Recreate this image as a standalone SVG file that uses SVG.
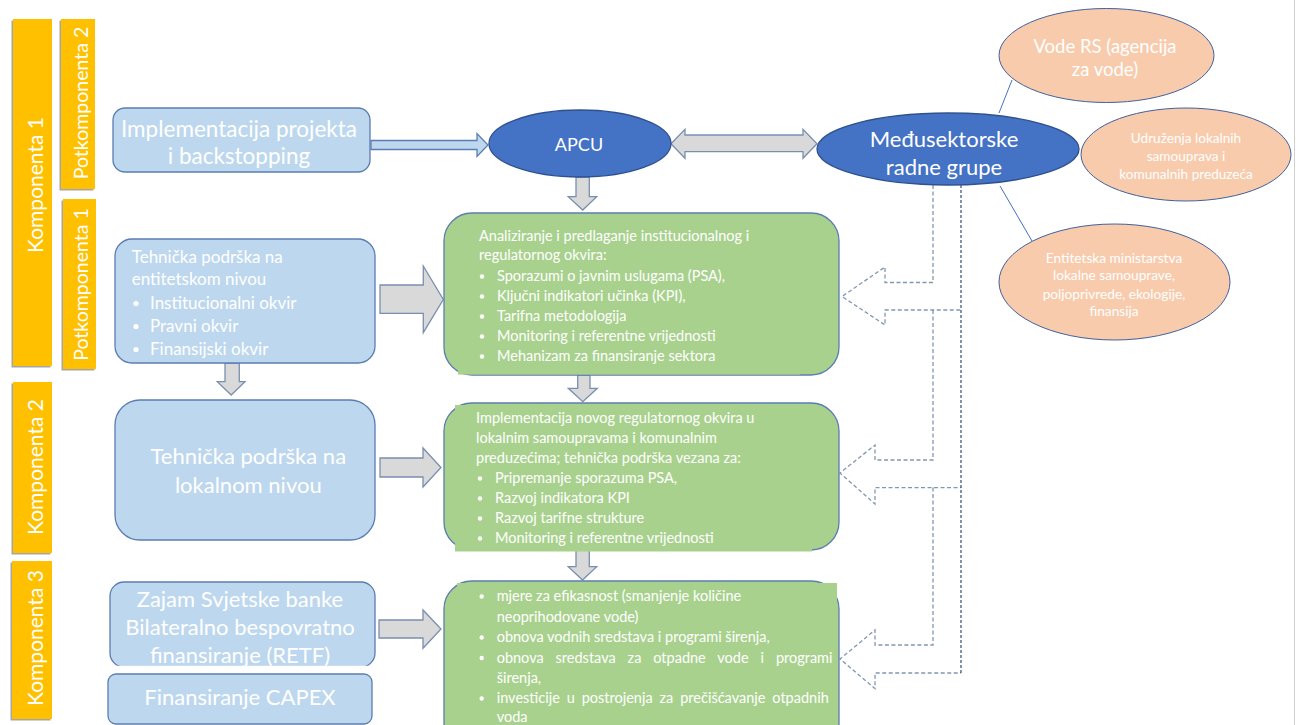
<svg xmlns="http://www.w3.org/2000/svg" width="1296" height="725" viewBox="0 0 1296 725">
<style>
.t{font-family:Lato,"Liberation Sans",sans-serif;fill:#fff}
.c{text-anchor:middle}
.lb{fill:#bdd7ee;stroke:#5b7db1;stroke-width:1.3}
.gr{fill:#a9d18e;stroke:#5b7db1;stroke-width:1.3}
.gf{fill:#a9d18e}
.yl{fill:#ffc000}
.sh{fill:#a6a6a6}
.el{fill:#4472c4;stroke:#2f528f;stroke-width:1.3}
.pe{fill:#f8cbad;stroke:#41619c;stroke-width:1}
.ga{fill:#d9d9d9;stroke:#7a8fb0;stroke-width:1.3}
.ba{fill:#bdd7ee;stroke:#5b7db1;stroke-width:1.3}
.da{fill:none;stroke:#8497b0;stroke-width:1.3;stroke-dasharray:4 2.5}
.db{fill:none;stroke:#2f4a7a;stroke-width:1.2;stroke-dasharray:3 2}
.ln{stroke:#4472c4;stroke-width:1;fill:none}
.g14{font-size:14.5px}
</style>
<rect width="1296" height="725" fill="#fff"/>
<line x1="1294.5" y1="0" x2="1294.5" y2="725" stroke="#d0d0d0" stroke-width="1"/>

<!-- Side labels -->
<g id="komponenta1">
<rect class="sh" x="11.5" y="20.5" width="39" height="347"/>
<rect class="yl" x="13" y="19" width="39" height="347"/>
<text class="t c" font-size="21" transform="translate(35.5,185) rotate(-90)" y="7.5">Komponenta 1</text>
</g>
<g id="potkomponenta2">
<rect class="sh" x="59.5" y="20.5" width="34" height="170"/>
<rect class="yl" x="61" y="19" width="34" height="170"/>
<text class="t c" font-size="19.5" transform="translate(80.7,103) rotate(-90)" y="7">Potkomponenta 2</text>
</g>
<g id="potkomponenta1">
<rect class="sh" x="61.5" y="200.5" width="33" height="170"/>
<rect class="yl" x="63" y="199" width="33" height="170"/>
<text class="t c" font-size="19.5" transform="translate(81.2,284.5) rotate(-90)" y="7">Potkomponenta 1</text>
</g>
<g id="komponenta2">
<rect class="sh" x="11.5" y="383.5" width="39" height="171"/>
<rect class="yl" x="13" y="382" width="39" height="171"/>
<text class="t c" font-size="21" transform="translate(35.5,467) rotate(-90)" y="7.5">Komponenta 2</text>
</g>
<g id="komponenta3">
<rect class="sh" x="10.5" y="562.5" width="40" height="158"/>
<rect class="yl" x="12" y="561" width="40" height="158"/>
<text class="t c" font-size="21" transform="translate(35.5,638) rotate(-90)" y="7.5">Komponenta 3</text>
</g>

<!-- Connectors -->
<g id="connectors">
<polygon class="ba" points="371,140.5 477,140.5 477,133.5 488,145 477,156.5 477,149.5 371,149.5"/>
<polygon class="ga" points="671,143.8 685,129.3 685,135 803,135 803,129.3 817,143.8 803,158.3 803,151.7 685,151.7 685,158.3"/>
<polygon class="ga" points="576,177 589.3,177 589.3,196.7 596.7,196.7 582.7,210 568.3,196.7 576,196.7"/>
<polygon class="ga" points="380,285 423.3,285 423.3,266 443.3,299.5 423.3,332.7 423.3,313.3 380,313.3"/>
<polygon class="ga" points="380,458 423,458 423,448 441,467.5 423,487 423,477 380,477"/>
<polygon class="ga" points="379,620 423,620 423,610 441,629 423,648.3 423,638 379,638"/>
<polygon class="ga" points="225,363 239.3,363 239.3,381.7 245,381.7 231.2,395 217.3,381.7 225,381.7"/>
<polygon class="ga" points="577.7,375 590,375 590,388.3 597.3,388.3 582.8,401.7 568.3,388.3 577.7,388.3"/>
<polygon class="ga" points="576,550 589.3,550 589.3,566.7 596.7,566.7 582.5,580 568.3,566.7 576,566.7"/>
<path class="da" d="M933,185 V282.5 H885 V267 L842,296.5 L885,325 V310 H961"/>
<path class="da" d="M933,310 V460 H875 V445 L840,473 L875,504 V487.6 H961"/>
<path class="da" d="M933,487.6 V645 H875 V630 L840,659 L875,688.6 V673 H961"/>
<path class="db" d="M961,185 V673"/>
<line class="ln" x1="999" y1="113" x2="1012" y2="80"/>
<line class="ln" x1="1000" y1="186" x2="1032" y2="241"/>
</g>

<g id="implementacija">
<rect class="lb" x="113" y="108" width="257" height="64" rx="12"/>
<text class="t c" font-size="22.5" x="239" y="136.5">Implementacija projekta</text>
<text class="t c" font-size="22.5" x="239" y="163.5">i backstopping</text>
</g>

<g id="apcu">
<ellipse class="el" cx="580" cy="143.5" rx="91" ry="33.5"/>
<text class="t c" font-size="18" x="579" y="150.5">APCU</text>
</g>

<g id="medjusektorske">
<ellipse class="el" cx="948" cy="149" rx="131" ry="36"/>
<text class="t c" font-size="22" x="944" y="146.7">Međusektorske</text>
<text class="t c" font-size="22" x="944" y="175">radne grupe</text>
</g>

<g id="vode-rs">
<ellipse class="pe" cx="1106.5" cy="55.5" rx="107.5" ry="47"/>
<text class="t c" font-size="18.5" x="1105" y="52.7">Vode RS (agencija</text>
<text class="t c" font-size="18.5" x="1105" y="76">za vode)</text>
</g>

<g id="udruzenja">
<ellipse class="pe" cx="1186" cy="154.5" rx="105" ry="46.5"/>
<text class="t c" font-size="13.6" x="1186" y="142.5">Udruženja lokalnih</text>
<text class="t c" font-size="13.6" x="1186" y="161">samouprava i</text>
<text class="t c" font-size="13.6" x="1186" y="179">komunalnih preduzeća</text>
</g>

<g id="entitetska">
<ellipse class="pe" cx="1114.5" cy="282" rx="115.5" ry="58"/>
<text class="t c" font-size="13.7" x="1114" y="262.5">Entitetska ministarstva</text>
<text class="t c" font-size="13.7" x="1114" y="280">lokalne samouprave,</text>
<text class="t c" font-size="13.7" x="1114" y="298.5">poljoprivrede, ekologije,</text>
<text class="t c" font-size="13.7" x="1114" y="316">finansija</text>
</g>

<g id="entitetski-nivo">
<rect class="lb" x="115" y="239" width="260" height="124" rx="17"/>
<text class="t" font-size="17" x="131.7" y="262.7">Tehnička podrška na</text>
<text class="t" font-size="17" x="131.7" y="285">entitetskom nivou</text>
<circle cx="136" cy="303.5" r="2.6" fill="#fff"/>
<circle cx="136" cy="326.5" r="2.6" fill="#fff"/>
<circle cx="136" cy="349.5" r="2.6" fill="#fff"/>
<text class="t" font-size="17" x="150" y="309">Institucionalni okvir</text>
<text class="t" font-size="17" x="150" y="332">Pravni okvir</text>
<text class="t" font-size="17" x="150" y="355">Finansijski okvir</text>
</g>

<g id="lokalni-nivo">
<rect class="lb" x="115" y="400" width="260" height="140" rx="25"/>
<text class="t c" font-size="22" x="248.3" y="464">Tehnička podrška na</text>
<text class="t c" font-size="22" x="248.3" y="492.5">lokalnom nivou</text>
</g>

<g id="zajam">
<rect class="lb" x="110" y="582" width="265" height="85" rx="14"/>
<text class="t c" font-size="22" x="240" y="606.7">Zajam Svjetske banke</text>
<text class="t c" font-size="22" x="240" y="635">Bilateralno bespovratno</text>
<text class="t c" font-size="22" x="240" y="663.3">finansiranje (RETF)</text>
<rect x="115" y="665.8" width="255" height="3.2" fill="#fff"/>
</g>

<g id="capex">
<rect class="lb" x="108" y="674" width="264" height="50" rx="8"/>
<text class="t c" font-size="22" x="240" y="705">Finansiranje CAPEX</text>
</g>

<g id="analiziranje">
<rect class="gr" x="444" y="213" width="395" height="162" rx="28"/>
<rect class="gf" x="458" y="362" width="342" height="12.6"/>
<text class="t g14" x="479" y="240.7">Analiziranje i predlaganje institucionalnog i</text>
<text class="t g14" x="479" y="260">regulatornog okvira:</text>
<g fill="#fff">
<circle cx="482" cy="276.5" r="2.2"/><circle cx="482" cy="296.5" r="2.2"/><circle cx="482" cy="316.5" r="2.2"/><circle cx="482" cy="336.5" r="2.2"/><circle cx="482" cy="356.5" r="2.2"/>
</g>
<text class="t g14" x="497" y="281">Sporazumi o javnim uslugama (PSA),</text>
<text class="t g14" x="497" y="301">Ključni indikatori učinka (KPI),</text>
<text class="t g14" x="497" y="321">Tarifna metodologija</text>
<text class="t g14" x="497" y="341">Monitoring i referentne vrijednosti</text>
<text class="t g14" x="497" y="361">Mehanizam za finansiranje sektora</text>
</g>

<g id="implementacija-okvira">
<rect class="gr" x="444" y="403" width="395" height="147" rx="28"/>
<rect class="gf" x="455" y="405" width="357" height="146.5"/>
<text class="t g14" x="476" y="423">Implementacija novog regulatornog okvira u</text>
<text class="t g14" x="476" y="443">lokalnim samoupravama i komunalnim</text>
<text class="t g14" x="476" y="462.5">preduzećima; tehnička podrška vezana za:</text>
<g fill="#fff">
<circle cx="480" cy="478.5" r="2.2"/><circle cx="480" cy="498.5" r="2.2"/><circle cx="480" cy="518.5" r="2.2"/><circle cx="480" cy="538.5" r="2.2"/>
</g>
<text class="t g14" x="495" y="483">Pripremanje sporazuma PSA,</text>
<text class="t g14" x="495" y="503">Razvoj indikatora KPI</text>
<text class="t g14" x="495" y="523">Razvoj tarifne strukture</text>
<text class="t g14" x="495" y="543">Monitoring i referentne vrijednosti</text>
</g>

<g id="mjere">
<rect class="gr" x="444" y="581" width="395" height="170" rx="28"/>
<rect class="gf" x="457" y="583" width="380" height="142"/>
<g fill="#fff">
<circle cx="481.7" cy="596.5" r="2.2"/><circle cx="481.7" cy="637.5" r="2.2"/><circle cx="481.7" cy="658" r="2.2"/><circle cx="481.7" cy="698.5" r="2.2"/>
</g>
<text class="t g14" x="496.7" y="601">mjere za efikasnost (smanjenje količine</text>
<text class="t g14" x="496.7" y="621.5">neoprihodovane vode)</text>
<text class="t g14" x="496.7" y="642">obnova vodnih sredstava i programi širenja,</text>
<text class="t g14" x="496.7" y="662.5" word-spacing="8.2">obnova sredstava za otpadne vode i programi</text>
<text class="t g14" x="496.7" y="683">širenja,</text>
<text class="t g14" x="496.7" y="703" word-spacing="3.2">investicije u postrojenja za prečišćavanje otpadnih</text>
<text class="t g14" x="496.7" y="722">voda</text>
</g>
</svg>
